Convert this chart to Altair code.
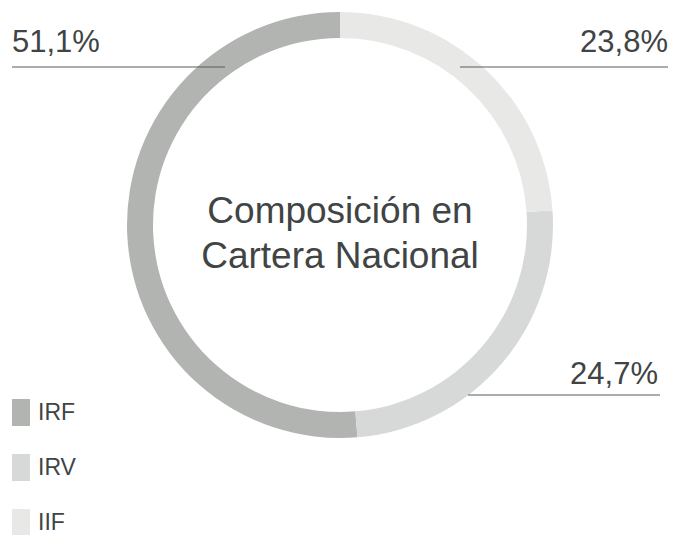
import altair as alt
import pandas as pd

categorias = ["IRF", "IRV", "IIF"]
valores = [51.1, 24.7, 23.8]
orden_arco = [2, 1, 0]
colores = ["#b2b4b2", "#d7d9d8", "#e8e8e7"]
titulo = ["Composición en", "Cartera Nacional"]

df = pd.DataFrame({
    "categoria": categorias,
    "valor": valores,
    "orden": orden_arco,
    "etiqueta": [f"{v:.1f}".replace(".", ",") + "%" for v in valores],
})

FONT = "Liberation Sans"
TXT = "#404444"
LINE = "#5a5a5a"

base = alt.Chart(df)

arcs = base.mark_arc(outerRadius=213, innerRadius=187, strokeWidth=0).encode(
    theta=alt.Theta("valor:Q", stack=True),
    order=alt.Order("orden:Q"),
    color=alt.Color(
        "categoria:N",
        scale=alt.Scale(domain=categorias, range=colores),
        legend=alt.Legend(
            title=None,
            orient="none",
            legendX=-0.5,
            legendY=391,
            padding=0,
            rowPadding=28,
            labelFontSize=23,
            labelFont=FONT,
            labelColor=TXT,
            labelOffset=3.5,
            symbolType="M-0.667,-1H0.667V1H-0.667Z",
            symbolSize=729,
            symbolStrokeWidth=0,
        ),
    ),
    x=alt.value(332),
    y=alt.value(217),
)

def etiqueta(cat, x, y, align):
    return base.transform_filter(alt.datum.categoria == cat).mark_text(
        font=FONT, fontSize=31, color=TXT, align=align, baseline="alphabetic"
    ).encode(text="etiqueta:N", x=alt.value(x), y=alt.value(y))

def linea(cat, x1, x2, y):
    return base.transform_filter(alt.datum.categoria == cat).mark_rule(
        color=LINE, strokeWidth=1.2
    ).encode(x=alt.value(x1), x2=alt.value(x2), y=alt.value(y))

def centro(i, y):
    return alt.Chart(pd.DataFrame({"t": [titulo[i]]})).mark_text(
        font=FONT, fontSize=37, color=TXT, align="center", baseline="alphabetic"
    ).encode(text="t:N", x=alt.value(332), y=alt.value(y))

chart = alt.layer(
    arcs,
    etiqueta("IRF", 4, 44, "left"),
    linea("IRF", 4, 217, 59),
    etiqueta("IIF", 660, 44, "right"),
    linea("IIF", 452, 660, 59),
    etiqueta("IRV", 650, 376, "right"),
    linea("IRV", 460, 652, 387),
    centro(0, 215),
    centro(1, 260),
).properties(
    width=660, height=527, padding=0, autosize=alt.AutoSizeParams(type="none")
).configure_view(stroke=None)

chart.save("out.html", embed_options={"renderer": "svg", "actions": False})
